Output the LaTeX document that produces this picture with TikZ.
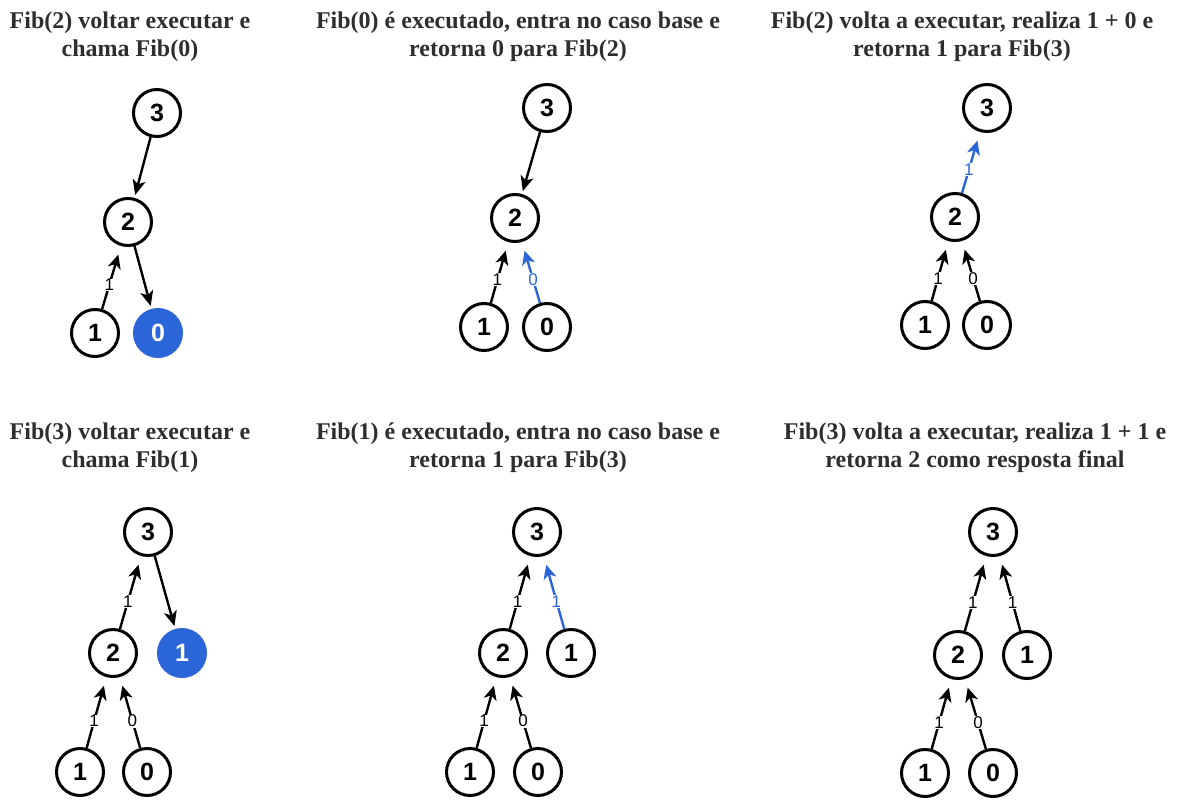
\documentclass[tikz,border=0pt]{standalone}
\usepackage{fontspec}
\setmainfont{Liberation Serif}
\newfontfamily\fibsans{Liberation Sans}
\usetikzlibrary{arrows.meta}
\definecolor{fibblue}{HTML}{2B66D9}
\definecolor{capgray}{HTML}{2E2E2E}
\newcommand\fibnum{\fibsans\bfseries\fontsize{25}{30}\selectfont}
\newcommand\fiblbl{\fibsans\fontsize{17}{20}\selectfont}
\newcommand\fibcap{\bfseries\fontsize{24}{28}\selectfont}
\tikzset{
  num/.style={circle, draw, line width=3pt, minimum size=47pt, inner sep=0pt, font=\fibnum},
  hot/.style={num, fill=fibblue, draw=fibblue, text=white},
  call/.style={-{Stealth[length=15pt,width=13pt,inset=4pt]}, line width=2.4pt, shorten >=3pt},
  ret/.style={-{Stealth[length=14pt,width=13pt,inset=4pt]}, line width=2.4pt, shorten >=9pt},
  retblue/.style={ret, draw=fibblue},
  val/.style={font=\fiblbl, fill=white, inner sep=0.5pt, pos=0.38},
  valblue/.style={val, text=fibblue},
  caption/.style={font=\fibcap, align=center, text=capgray}
}
\begin{document}
\begin{tikzpicture}[x=1pt, y=-1pt]
\useasboundingbox (0,0) rectangle (1183,803);

% ---- step 1: Fib(2) calls Fib(0)
\node[caption] (t1) at (130,37) {Fib(2) voltar executar e\\chama Fib(0)};
\node[num] (a3) at (157,113) {3};
\node[num] (a2) at (128,222) {2};
\node[num] (a1) at (95,333) {1};
\node[hot] (a0) at (158,333) {0};
\draw[call] (a3) -- (a2);
\draw[call] (a2) -- (a0);
\draw[ret] (a1) -- node[val] {1} (a2);

% ---- step 2: Fib(0) returns 0
\node[caption] (t2) at (518,37) {Fib(0) é executado, entra no caso base e\\retorna 0 para Fib(2)};
\node[num] (b3) at (547,108) {3};
\node[num] (b2) at (515,218) {2};
\node[num] (b1) at (484,327) {1};
\node[num] (b0) at (547,327) {0};
\draw[call] (b3) -- (b2);
\draw[ret] (b1) -- node[val] {1} (b2);
\draw[retblue] (b0) -- node[valblue] {0} (b2);

% ---- step 3: Fib(2) returns 1
\node[caption] (t3) at (962,37) {Fib(2) volta a executar, realiza 1 + 0 e\\retorna 1 para Fib(3)};
\node[num] (c3) at (987,108) {3};
\node[num] (c2) at (955,217) {2};
\node[num] (c1) at (925,325) {1};
\node[num] (c0) at (987,325) {0};
\draw[retblue] (c2) -- node[valblue] {1} (c3);
\draw[ret] (c1) -- node[val] {1} (c2);
\draw[ret] (c0) -- node[val] {0} (c2);

% ---- step 4: Fib(3) calls Fib(1)
\node[caption] (t4) at (130,448) {Fib(3) voltar executar e\\chama Fib(1)};
\node[num] (d3) at (148,532) {3};
\node[num] (d2) at (113,653) {2};
\node[hot] (d1r) at (182,653) {1};
\node[num] (d1) at (80,772) {1};
\node[num] (d0) at (147,772) {0};
\draw[ret] (d2) -- node[val] {1} (d3);
\draw[call] (d3) -- (d1r);
\draw[ret] (d1) -- node[val] {1} (d2);
\draw[ret] (d0) -- node[val] {0} (d2);

% ---- step 5: Fib(1) returns 1
\node[caption] (t5) at (518,448) {Fib(1) é executado, entra no caso base e\\retorna 1 para Fib(3)};
\node[num] (e3) at (537,532) {3};
\node[num] (e2) at (503,653) {2};
\node[num] (e1r) at (571,653) {1};
\node[num] (e1) at (470,772) {1};
\node[num] (e0) at (538,772) {0};
\draw[ret] (e2) -- node[val] {1} (e3);
\draw[retblue] (e1r) -- node[valblue] {1} (e3);
\draw[ret] (e1) -- node[val] {1} (e2);
\draw[ret] (e0) -- node[val] {0} (e2);

% ---- step 6: Fib(3) returns the final answer
\node[caption] (t6) at (975,448) {Fib(3) volta a executar, realiza 1 + 1 e\\retorna 2 como resposta final};
\node[num] (f3) at (993,532) {3};
\node[num] (f2) at (958,655) {2};
\node[num] (f1r) at (1027,655) {1};
\node[num] (f1) at (925,773) {1};
\node[num] (f0) at (993,773) {0};
\draw[ret] (f2) -- node[val] {1} (f3);
\draw[ret] (f1r) -- node[val] {1} (f3);
\draw[ret] (f1) -- node[val] {1} (f2);
\draw[ret] (f0) -- node[val] {0} (f2);
\end{tikzpicture}
\end{document}
